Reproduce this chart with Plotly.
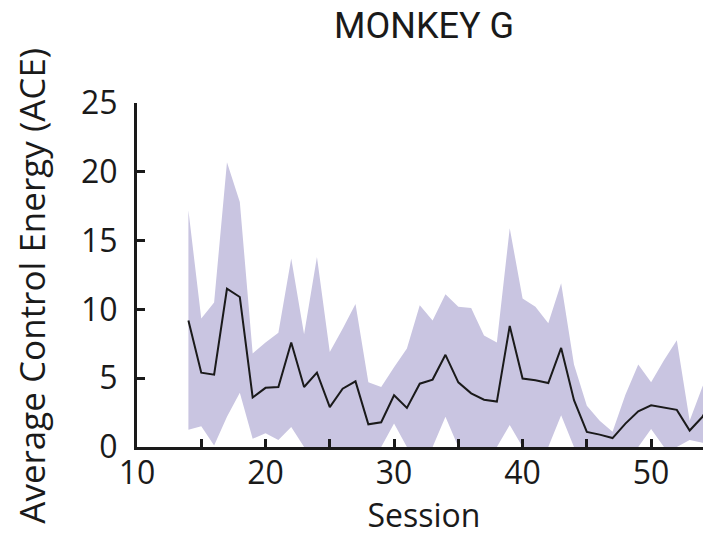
import plotly.graph_objects as go

sessions = list(range(14, 56))
ace_mean = [9.2, 5.4, 5.26, 11.5, 10.9, 3.6, 4.3, 4.36, 7.6, 4.36, 5.4, 2.9, 4.24, 4.77,
            1.65, 1.8, 3.76, 2.84, 4.6, 4.9, 6.7, 4.7, 3.9, 3.44, 3.3, 8.8, 4.97, 4.85,
            4.65, 7.2, 3.4, 1.1, 0.9, 0.65, 1.7, 2.6, 3.03, 2.86, 2.7, 1.2, 2.2, 4.0]
ace_upper = [17.2, 9.33, 10.5, 20.7, 17.8, 6.8, 7.6, 8.3, 13.7, 8.2, 13.8, 6.9, 8.6, 10.4,
             4.7, 4.36, 5.8, 7.15, 10.3, 9.2, 11.1, 10.2, 10.1, 8.1, 7.6, 15.9, 10.8, 10.2,
             9.0, 11.9, 6.0, 3.0, 1.9, 1.1, 3.8, 6.0, 4.7, 6.3, 7.75, 1.9, 4.4, 6.5]
ace_lower = [1.26, 1.5, 0.1, 2.2, 3.95, 0.6, 1.0, 0.5, 1.45, 0, 0, 0, 0, 0,
             0, 0, 1.7, 0, 0, 0, 2.2, 0, 0, 0, 0, 1.6, 0, 0,
             0, 2.3, 0, 0, 0, 0, 0, 0, 1.3, 0, 0, 0.5, 0.3, 0.3]

x_tickvals = [10, 15, 20, 25, 30, 35, 40, 45, 50, 55]
x_ticktext = ["10", "", "20", "", "30", "", "40", "", "50", ""]
y_tickvals = [0, 5, 10, 15, 20, 25]

band_color = "#c9c5e1"
font_family = "Open Sans, Noto Sans, sans-serif"

fig = go.Figure()
fig.add_trace(go.Scatter(x=sessions, y=ace_lower, mode="lines", line=dict(width=0),
                         showlegend=False, hoverinfo="skip"))
fig.add_trace(go.Scatter(x=sessions, y=ace_upper, mode="lines", line=dict(width=0),
                         fill="tonexty", fillcolor=band_color, showlegend=False,
                         hoverinfo="skip"))
fig.add_trace(go.Scatter(x=sessions, y=ace_mean, mode="lines",
                         line=dict(color="#1a1a1a", width=2), showlegend=False))

fig.add_annotation(text="Average Control Energy (ACE)", xref="paper", yref="paper",
                   x=-0.184, y=0.47, xanchor="center", yanchor="middle",
                   textangle=-90, showarrow=False,
                   font=dict(family=font_family, size=35, color="#1a1a1a"))

fig.update_layout(
    width=703, height=529,
    margin=dict(l=129, r=0, t=95, b=90),
    paper_bgcolor="white", plot_bgcolor="white",
    title=dict(text="MONKEY G", x=0.5, xref="paper", y=0.9665, yref="container",
               yanchor="middle", font=dict(family="Roboto, sans-serif", size=36, color="#1a1a1a")),
    font=dict(family=font_family, color="#1a1a1a"),
    xaxis=dict(range=[10, 54.66], tickvals=x_tickvals, ticktext=x_ticktext,
               ticks="inside", ticklen=8, tickwidth=3, tickcolor="#1a1a1a",
               showline=True, linecolor="#1a1a1a", linewidth=3, showgrid=False,
               zeroline=False, tickfont=dict(size=32), automargin=False,
               ticklabelstandoff=-4,
               title=dict(text="Session", font=dict(size=32), standoff=4)),
    yaxis=dict(range=[0, 25], tickvals=y_tickvals,
               ticks="inside", ticklen=8, tickwidth=3, tickcolor="#1a1a1a",
               showline=True, linecolor="#1a1a1a", linewidth=3, showgrid=False,
               zeroline=False, tickfont=dict(size=32), ticklabelstandoff=10,
               automargin=False),
)

fig.write_html("out.html")
